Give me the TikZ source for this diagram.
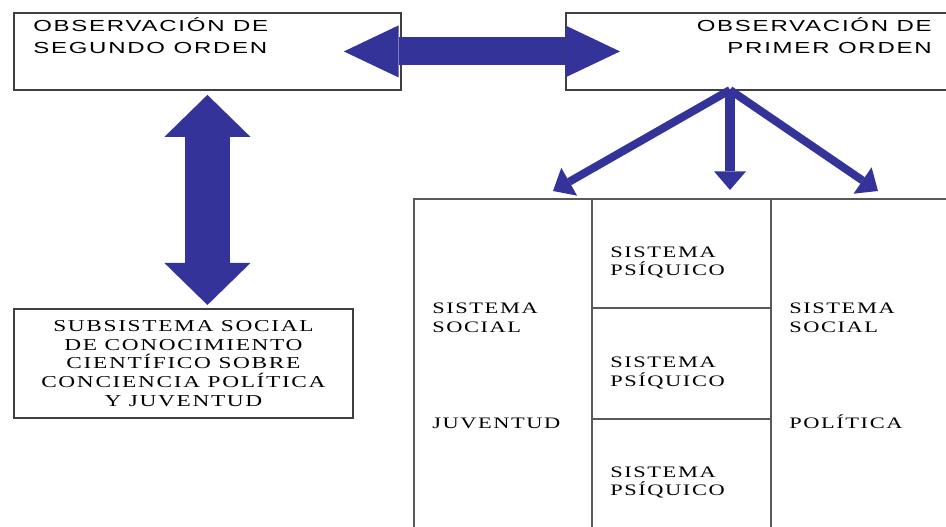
\documentclass[tikz,border=0pt]{standalone}
\usepackage{xcolor}
\usepackage{fontspec}
\usepackage{tikz}
\usetikzlibrary{arrows.meta,positioning,calc}
\newfontfamily\obsfont[FakeStretch=1.5,LetterSpace=11]{Liberation Sans}
\newfontfamily\sisfont[FakeStretch=1.4,LetterSpace=10]{Liberation Serif}
\definecolor{arrowblue}{HTML}{333399}

\begin{document}
\begin{tikzpicture}[
    x=0.75pt, y=-0.75pt,
    box/.style={rectangle, draw=black!75, line width=1.4pt, fill=white, anchor=north west},
    obstext/.style={font=\obsfont\fontsize{12}{16.5}\selectfont, inner sep=0pt},
    sistext/.style={font=\sisfont\fontsize{12}{13.5}\selectfont, inner sep=0pt, align=left, anchor=base west},
    grid/.style={draw=black!65, line width=1.5pt},
    bigarrow/.style={arrowblue, line width=21pt, {Triangle[length=41pt, width=39pt, line width=0pt]}-{Triangle[length=41pt, width=39pt, line width=0pt]}},
    tallarrow/.style={arrowblue, line width=33.75pt, {Triangle[length=31.5pt, width=64.5pt, line width=0pt]}-{Triangle[length=31.5pt, width=64.5pt, line width=0pt]}},
    thinarrow/.style={arrowblue, line width=6pt, -{Triangle[length=14pt, width=24pt, line width=0pt]}}
]
    \useasboundingbox (0,0) rectangle (946,527);

    % Top boxes
    \node[box, minimum width=290.25pt, minimum height=57.75pt] (segundo) at (13,12) {};
    \node[box, minimum width=288pt, minimum height=57.75pt] (primer) at (565,12) {};
    \node[obstext, align=left, anchor=base west] (segundotext) at (33,54) {OBSERVACIÓN DE\\SEGUNDO ORDEN};
    \node[obstext, align=right, anchor=base east] (primertext) at (932,54) {OBSERVACIÓN DE\\PRIMER ORDEN};

    % Bottom left box
    \node[box, minimum width=254.25pt, minimum height=81.75pt, align=center,
          font=\sisfont\fontsize{12.5}{14}\selectfont] (subsistema) at (13,308)
          {SUBSISTEMA SOCIAL\\DE CONOCIMIENTO\\CIENTÍFICO SOBRE\\CONCIENCIA POLÍTICA\\Y JUVENTUD};

    % Table
    \draw[grid] (414,527) -- (414,199) -- (948,199);
    \draw[grid] (592,199) -- (592,527);
    \draw[grid] (771,199) -- (771,527);
    \draw[grid] (592,308) -- (771,308);
    \draw[grid] (592,419) -- (771,419);

    \node[sistext] (socialjuv) at (432,332) {SISTEMA\\SOCIAL};
    \node[sistext] (juventud) at (432,428) {JUVENTUD};
    \node[sistext] (psiquicoa) at (610,276) {SISTEMA\\PSÍQUICO};
    \node[sistext] (psiquicob) at (610,386) {SISTEMA\\PSÍQUICO};
    \node[sistext] (psiquicoc) at (610,495) {SISTEMA\\PSÍQUICO};
    \node[sistext] (socialpol) at (789,332) {SISTEMA\\SOCIAL};
    \node[sistext] (politica) at (789,428) {POLÍTICA};

    % Arrows
    \draw[bigarrow, shorten <=-43.5pt, shorten >=-41.25pt] (segundo.east) -- (primer.west);
    \draw[tallarrow, shorten <=3pt, shorten >=2.25pt] (segundo.south) -- (segundo.south |- subsistema.north);

    \coordinate (fork) at (730,90);
    \coordinate (tipjuv) at (553,191);
    \coordinate (tippsi) at (730,190);
    \coordinate (tippol) at (878,191);
    \draw[thinarrow] (fork) -- (tipjuv);
    \draw[thinarrow, line width=7.5pt] (fork) -- (tippsi);
    \draw[thinarrow] (fork) -- (tippol);
\end{tikzpicture}
\end{document}
